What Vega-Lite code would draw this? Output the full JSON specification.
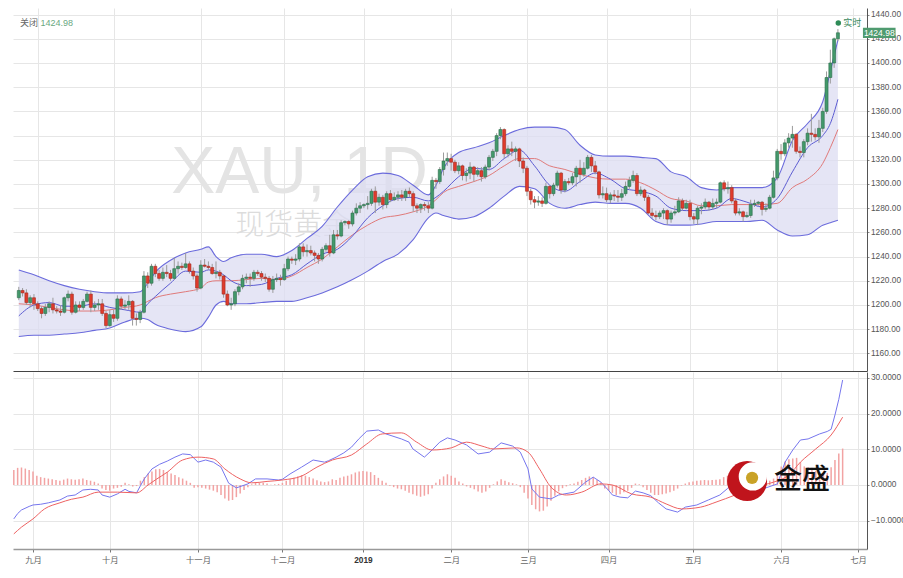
{
"$schema":"https://vega.github.io/schema/vega-lite/v6.json",
"padding":{"left":13,"top":8,"right":0,"bottom":0},
"spacing":1,
"background":"white",
"config":{"view":{"stroke":null},"axis":{"labelFont":"Liberation Sans, Noto Sans CJK SC","labelFontSize":8.3,"labelColor":"#555","gridColor":"#e6e6e6","gridWidth":1,"tickColor":"#888","domainColor":"#555"},"axisY":{"tickSize":2,"labelPadding":1.5},"axisX":{"tickSize":3,"labelPadding":3}},
"datasets":{
"k":[
{"i":-5,"o":1206,"h":1215,"l":1204,"c":1212,"d":4.2},{"i":-4,"o":1212,"h":1214,"l":1207,"c":1210,"d":4.8},{"i":-3,"o":1210,"h":1213,"l":1200,"c":1202,"d":4.9},{"i":-2,"o":1202,"h":1208,"l":1198,"c":1206,"d":4.6},{"i":-1,"o":1206,"h":1209,"l":1196,"c":1201,"d":4.2},
{"i":0,"o":1201,"h":1203,"l":1195,"c":1197,"d":3.8},{"i":1,"o":1197,"h":1199,"l":1189,"c":1193,"d":2.6},{"i":2,"o":1193,"h":1201,"l":1191,"c":1198,"d":2.2},{"i":3,"o":1198,"h":1203,"l":1194,"c":1201,"d":2.0},{"i":4,"o":1201,"h":1206,"l":1193,"c":1196,"d":1.8},
{"i":5,"o":1196,"h":1199,"l":1193,"c":1195,"d":1.6},{"i":6,"o":1195,"h":1200,"l":1191,"c":1194,"d":1.4},{"i":7,"o":1194,"h":1207,"l":1193,"c":1206,"d":1.2},{"i":8,"o":1206,"h":1212,"l":1203,"c":1209,"d":1.5},{"i":9,"o":1209,"h":1211,"l":1192,"c":1194,"d":1.8},
{"i":10,"o":1194,"h":1203,"l":1193,"c":1200,"d":1.6},{"i":11,"o":1200,"h":1203,"l":1195,"c":1198,"d":1.5},{"i":12,"o":1198,"h":1205,"l":1196,"c":1203,"d":1.6},{"i":13,"o":1203,"h":1211,"l":1202,"c":1209,"d":1.8},{"i":14,"o":1209,"h":1212,"l":1194,"c":1198,"d":1.4},
{"i":15,"o":1198,"h":1203,"l":1195,"c":1200,"d":1.2},{"i":16,"o":1200,"h":1205,"l":1196,"c":1201,"d":0.9},{"i":17,"o":1201,"h":1205,"l":1191,"c":1193,"d":0.4},{"i":18,"o":1193,"h":1195,"l":1181,"c":1183,"d":-1.0},{"i":19,"o":1183,"h":1196,"l":1182,"c":1192,"d":-1.4},
{"i":20,"o":1192,"h":1196,"l":1186,"c":1189,"d":-1.6},{"i":21,"o":1189,"h":1208,"l":1187,"c":1205,"d":-1.0},{"i":22,"o":1205,"h":1207,"l":1196,"c":1199,"d":-0.8},{"i":23,"o":1199,"h":1204,"l":1196,"c":1200,"d":-0.5},{"i":24,"o":1200,"h":1208,"l":1196,"c":1203,"d":0.6},
{"i":25,"o":1203,"h":1204,"l":1183,"c":1189,"d":0.2},{"i":26,"o":1189,"h":1193,"l":1183,"c":1188,"d":-0.4},{"i":27,"o":1188,"h":1196,"l":1185,"c":1194,"d":-0.3},{"i":28,"o":1194,"h":1228,"l":1193,"c":1224,"d":1.2},{"i":29,"o":1224,"h":1227,"l":1214,"c":1218,"d":2.2},
{"i":30,"o":1218,"h":1234,"l":1216,"c":1232,"d":3.2},{"i":31,"o":1232,"h":1234,"l":1223,"c":1226,"d":3.8},{"i":32,"o":1226,"h":1229,"l":1220,"c":1222,"d":4.4},{"i":33,"o":1222,"h":1231,"l":1220,"c":1227,"d":4.5},{"i":34,"o":1227,"h":1233,"l":1223,"c":1226,"d":4.2},
{"i":35,"o":1226,"h":1229,"l":1220,"c":1222,"d":3.6},{"i":36,"o":1222,"h":1239,"l":1221,"c":1230,"d":3.2},{"i":37,"o":1230,"h":1236,"l":1226,"c":1232,"d":2.8},{"i":38,"o":1232,"h":1235,"l":1229,"c":1231,"d":2.2},{"i":39,"o":1231,"h":1243,"l":1230,"c":1234,"d":1.8},
{"i":40,"o":1234,"h":1236,"l":1226,"c":1228,"d":1.2},{"i":41,"o":1228,"h":1231,"l":1221,"c":1224,"d":0.6},{"i":42,"o":1224,"h":1226,"l":1211,"c":1214,"d":-0.8},{"i":43,"o":1214,"h":1237,"l":1213,"c":1233,"d":-0.6},{"i":44,"o":1233,"h":1238,"l":1231,"c":1232,"d":-0.8},
{"i":45,"o":1232,"h":1236,"l":1229,"c":1231,"d":-1.0},{"i":46,"o":1231,"h":1234,"l":1225,"c":1226,"d":-1.3},{"i":47,"o":1226,"h":1236,"l":1222,"c":1227,"d":-1.6},{"i":48,"o":1227,"h":1229,"l":1221,"c":1224,"d":-2.0},{"i":49,"o":1224,"h":1225,"l":1206,"c":1209,"d":-2.8},
{"i":50,"o":1209,"h":1212,"l":1199,"c":1200,"d":-3.8},{"i":51,"o":1200,"h":1206,"l":1196,"c":1201,"d":-4.4},{"i":52,"o":1201,"h":1213,"l":1199,"c":1211,"d":-4.2},{"i":53,"o":1211,"h":1218,"l":1208,"c":1215,"d":-3.4},{"i":54,"o":1215,"h":1225,"l":1213,"c":1222,"d":-2.4},
{"i":55,"o":1222,"h":1226,"l":1218,"c":1223,"d":-1.4},{"i":56,"o":1223,"h":1226,"l":1215,"c":1222,"d":-0.6},{"i":57,"o":1222,"h":1229,"l":1220,"c":1227,"d":0.2},{"i":58,"o":1227,"h":1229,"l":1224,"c":1226,"d":0.6},{"i":59,"o":1226,"h":1228,"l":1220,"c":1223,"d":0.7},
{"i":60,"o":1223,"h":1226,"l":1219,"c":1222,"d":0.6},{"i":61,"o":1222,"h":1224,"l":1211,"c":1213,"d":0.4},{"i":62,"o":1213,"h":1224,"l":1210,"c":1221,"d":0.1},{"i":63,"o":1221,"h":1226,"l":1219,"c":1222,"d":0.2},{"i":64,"o":1222,"h":1225,"l":1216,"c":1221,"d":0.3},
{"i":65,"o":1221,"h":1234,"l":1220,"c":1230,"d":0.6},{"i":66,"o":1230,"h":1240,"l":1228,"c":1238,"d":1.2},{"i":67,"o":1238,"h":1240,"l":1234,"c":1237,"d":1.6},{"i":68,"o":1237,"h":1242,"l":1233,"c":1238,"d":2.0},{"i":69,"o":1238,"h":1251,"l":1236,"c":1248,"d":2.4},
{"i":70,"o":1248,"h":1251,"l":1240,"c":1244,"d":2.8},{"i":71,"o":1244,"h":1250,"l":1240,"c":1245,"d":2.6},{"i":72,"o":1245,"h":1249,"l":1241,"c":1243,"d":2.2},{"i":73,"o":1243,"h":1245,"l":1236,"c":1241,"d":1.8},{"i":74,"o":1241,"h":1243,"l":1234,"c":1238,"d":1.3},
{"i":75,"o":1238,"h":1248,"l":1236,"c":1246,"d":1.0},{"i":76,"o":1246,"h":1251,"l":1244,"c":1249,"d":0.8},{"i":77,"o":1249,"h":1258,"l":1240,"c":1243,"d":1.0},{"i":78,"o":1243,"h":1262,"l":1242,"c":1258,"d":1.6},{"i":79,"o":1258,"h":1262,"l":1254,"c":1257,"d":1.4},
{"i":80,"o":1257,"h":1270,"l":1256,"c":1268,"d":2.0},{"i":81,"o":1268,"h":1270,"l":1266,"c":1269,"d":2.4},{"i":82,"o":1269,"h":1270,"l":1263,"c":1267,"d":2.6},{"i":83,"o":1267,"h":1278,"l":1265,"c":1276,"d":3.0},{"i":84,"o":1276,"h":1284,"l":1274,"c":1280,"d":3.5},
{"i":85,"o":1280,"h":1285,"l":1276,"c":1282,"d":3.8},{"i":86,"o":1282,"h":1284,"l":1280,"c":1283,"d":3.9},{"i":87,"o":1283,"h":1290,"l":1279,"c":1284,"d":3.8},{"i":88,"o":1284,"h":1296,"l":1282,"c":1294,"d":3.6},{"i":89,"o":1294,"h":1298,"l":1276,"c":1285,"d":2.8},
{"i":90,"o":1285,"h":1292,"l":1282,"c":1289,"d":2.0},{"i":91,"o":1289,"h":1291,"l":1279,"c":1283,"d":1.2},{"i":92,"o":1283,"h":1294,"l":1280,"c":1292,"d":0.6},{"i":93,"o":1292,"h":1295,"l":1285,"c":1287,"d":-0.2},{"i":94,"o":1287,"h":1293,"l":1286,"c":1289,"d":-0.6},
{"i":95,"o":1289,"h":1294,"l":1286,"c":1291,"d":-1.0},{"i":96,"o":1291,"h":1295,"l":1286,"c":1289,"d":-1.2},{"i":97,"o":1289,"h":1296,"l":1286,"c":1294,"d":-1.6},{"i":98,"o":1294,"h":1297,"l":1289,"c":1292,"d":-2.2},{"i":99,"o":1292,"h":1294,"l":1277,"c":1282,"d":-2.6},
{"i":100,"o":1282,"h":1284,"l":1276,"c":1280,"d":-3.0},{"i":101,"o":1280,"h":1284,"l":1276,"c":1283,"d":-3.3},{"i":102,"o":1283,"h":1285,"l":1278,"c":1282,"d":-3.0},{"i":103,"o":1282,"h":1285,"l":1276,"c":1280,"d":-2.6},{"i":104,"o":1280,"h":1306,"l":1279,"c":1303,"d":-1.0},
{"i":105,"o":1303,"h":1305,"l":1296,"c":1302,"d":0.6},{"i":106,"o":1302,"h":1314,"l":1300,"c":1312,"d":1.6},{"i":107,"o":1312,"h":1326,"l":1307,"c":1319,"d":2.4},{"i":108,"o":1319,"h":1326,"l":1315,"c":1321,"d":3.0},{"i":109,"o":1321,"h":1325,"l":1311,"c":1318,"d":2.6},
{"i":110,"o":1318,"h":1320,"l":1309,"c":1311,"d":2.0},{"i":111,"o":1311,"h":1318,"l":1308,"c":1315,"d":1.0},{"i":112,"o":1315,"h":1316,"l":1303,"c":1307,"d":0.4},{"i":113,"o":1307,"h":1313,"l":1302,"c":1309,"d":-0.4},{"i":114,"o":1309,"h":1318,"l":1304,"c":1314,"d":-0.8},
{"i":115,"o":1314,"h":1315,"l":1302,"c":1308,"d":-1.2},{"i":116,"o":1308,"h":1314,"l":1306,"c":1311,"d":-1.8},{"i":117,"o":1311,"h":1314,"l":1302,"c":1306,"d":-2.2},{"i":118,"o":1306,"h":1316,"l":1304,"c":1314,"d":-1.8},{"i":119,"o":1314,"h":1324,"l":1311,"c":1322,"d":-0.8},
{"i":120,"o":1322,"h":1329,"l":1319,"c":1327,"d":0.2},{"i":121,"o":1327,"h":1342,"l":1323,"c":1340,"d":1.0},{"i":122,"o":1340,"h":1347,"l":1337,"c":1345,"d":1.6},{"i":123,"o":1345,"h":1346,"l":1321,"c":1325,"d":1.2},{"i":124,"o":1325,"h":1332,"l":1322,"c":1329,"d":0.8},
{"i":125,"o":1329,"h":1335,"l":1323,"c":1327,"d":0.5},{"i":126,"o":1327,"h":1331,"l":1319,"c":1329,"d":0.2},{"i":127,"o":1329,"h":1330,"l":1314,"c":1319,"d":-0.6},{"i":128,"o":1319,"h":1322,"l":1309,"c":1313,"d":-2.2},{"i":129,"o":1313,"h":1315,"l":1290,"c":1294,"d":-3.8},
{"i":130,"o":1294,"h":1296,"l":1283,"c":1287,"d":-5.6},{"i":131,"o":1287,"h":1290,"l":1280,"c":1285,"d":-6.8},{"i":132,"o":1285,"h":1290,"l":1282,"c":1286,"d":-7.4},{"i":133,"o":1286,"h":1289,"l":1281,"c":1284,"d":-7.2},{"i":134,"o":1284,"h":1301,"l":1283,"c":1298,"d":-6.0},
{"i":135,"o":1298,"h":1299,"l":1288,"c":1292,"d":-4.4},{"i":136,"o":1292,"h":1301,"l":1290,"c":1299,"d":-3.0},{"i":137,"o":1299,"h":1311,"l":1297,"c":1309,"d":-1.8},{"i":138,"o":1309,"h":1310,"l":1292,"c":1295,"d":-0.9},{"i":139,"o":1295,"h":1304,"l":1293,"c":1302,"d":-0.4},
{"i":140,"o":1302,"h":1305,"l":1299,"c":1301,"d":0.2},{"i":141,"o":1301,"h":1309,"l":1299,"c":1306,"d":0.4},{"i":142,"o":1306,"h":1315,"l":1298,"c":1313,"d":0.9},{"i":143,"o":1313,"h":1320,"l":1301,"c":1308,"d":1.4},{"i":144,"o":1308,"h":1318,"l":1306,"c":1313,"d":2.0},
{"i":145,"o":1313,"h":1324,"l":1312,"c":1322,"d":2.4},{"i":146,"o":1322,"h":1324,"l":1310,"c":1315,"d":2.2},{"i":147,"o":1315,"h":1319,"l":1308,"c":1310,"d":1.4},{"i":148,"o":1310,"h":1311,"l":1288,"c":1291,"d":0.6},{"i":149,"o":1291,"h":1298,"l":1288,"c":1292,"d":-1.0},
{"i":150,"o":1292,"h":1297,"l":1285,"c":1287,"d":-1.6},{"i":151,"o":1287,"h":1293,"l":1284,"c":1291,"d":-2.2},{"i":152,"o":1291,"h":1295,"l":1286,"c":1290,"d":-2.8},{"i":153,"o":1290,"h":1295,"l":1285,"c":1289,"d":-2.6},{"i":154,"o":1289,"h":1296,"l":1286,"c":1292,"d":-2.0},
{"i":155,"o":1292,"h":1302,"l":1290,"c":1298,"d":-1.6},{"i":156,"o":1298,"h":1306,"l":1296,"c":1303,"d":-0.8},{"i":157,"o":1303,"h":1311,"l":1301,"c":1307,"d":0.4},{"i":158,"o":1307,"h":1309,"l":1290,"c":1292,"d":0.2},{"i":159,"o":1292,"h":1298,"l":1290,"c":1295,"d":-0.6},
{"i":160,"o":1295,"h":1296,"l":1286,"c":1289,"d":-1.4},{"i":161,"o":1289,"h":1291,"l":1275,"c":1276,"d":-2.2},{"i":162,"o":1276,"h":1280,"l":1272,"c":1274,"d":-2.8},{"i":163,"o":1274,"h":1278,"l":1270,"c":1273,"d":-2.8},{"i":164,"o":1273,"h":1278,"l":1271,"c":1276,"d":-2.6},
{"i":165,"o":1276,"h":1280,"l":1271,"c":1278,"d":-2.4},{"i":166,"o":1278,"h":1279,"l":1266,"c":1271,"d":-2.0},{"i":167,"o":1271,"h":1278,"l":1268,"c":1276,"d":-1.6},{"i":168,"o":1276,"h":1282,"l":1274,"c":1277,"d":-1.0},{"i":169,"o":1277,"h":1289,"l":1276,"c":1286,"d":-0.2},
{"i":170,"o":1286,"h":1288,"l":1278,"c":1280,"d":0.4},{"i":171,"o":1280,"h":1287,"l":1279,"c":1284,"d":0.8},{"i":172,"o":1284,"h":1287,"l":1270,"c":1273,"d":1.0},{"i":173,"o":1273,"h":1276,"l":1267,"c":1271,"d":1.2},{"i":174,"o":1271,"h":1282,"l":1266,"c":1280,"d":1.3},
{"i":175,"o":1280,"h":1284,"l":1275,"c":1281,"d":1.4},{"i":176,"o":1281,"h":1288,"l":1279,"c":1285,"d":1.3},{"i":177,"o":1285,"h":1286,"l":1278,"c":1281,"d":1.4},{"i":178,"o":1281,"h":1288,"l":1279,"c":1284,"d":1.5},{"i":179,"o":1284,"h":1288,"l":1280,"c":1285,"d":1.6},
{"i":180,"o":1285,"h":1302,"l":1284,"c":1301,"d":2.2},{"i":181,"o":1301,"h":1303,"l":1294,"c":1296,"d":2.6},{"i":182,"o":1296,"h":1302,"l":1292,"c":1297,"d":2.8},{"i":183,"o":1297,"h":1299,"l":1284,"c":1286,"d":2.4},{"i":184,"o":1286,"h":1288,"l":1274,"c":1276,"d":1.6},
{"i":185,"o":1276,"h":1280,"l":1274,"c":1277,"d":1.2},{"i":186,"o":1277,"h":1278,"l":1269,"c":1273,"d":0.8},{"i":187,"o":1273,"h":1277,"l":1272,"c":1274,"d":0.6},{"i":188,"o":1274,"h":1287,"l":1272,"c":1283,"d":0.8},{"i":189,"o":1283,"h":1287,"l":1281,"c":1284,"d":1.0},
{"i":190,"o":1284,"h":1286,"l":1282,"c":1285,"d":1.1},{"i":191,"o":1285,"h":1286,"l":1274,"c":1279,"d":1.0},{"i":192,"o":1279,"h":1284,"l":1277,"c":1280,"d":1.2},{"i":193,"o":1280,"h":1291,"l":1279,"c":1289,"d":1.8},{"i":194,"o":1289,"h":1311,"l":1288,"c":1305,"d":3.2},
{"i":195,"o":1305,"h":1329,"l":1303,"c":1327,"d":5.2},{"i":196,"o":1327,"h":1333,"l":1320,"c":1325,"d":6.6},{"i":197,"o":1325,"h":1337,"l":1323,"c":1334,"d":7.2},{"i":198,"o":1334,"h":1342,"l":1330,"c":1338,"d":7.4},{"i":199,"o":1338,"h":1348,"l":1330,"c":1341,"d":7.6},
{"i":200,"o":1341,"h":1342,"l":1325,"c":1327,"d":6.4},{"i":201,"o":1327,"h":1331,"l":1322,"c":1326,"d":5.2},{"i":202,"o":1326,"h":1337,"l":1322,"c":1335,"d":5.0},{"i":203,"o":1335,"h":1346,"l":1332,"c":1342,"d":4.8},{"i":204,"o":1342,"h":1358,"l":1335,"c":1341,"d":4.0},
{"i":205,"o":1341,"h":1346,"l":1336,"c":1339,"d":3.2},{"i":206,"o":1339,"h":1353,"l":1334,"c":1346,"d":3.0},{"i":207,"o":1346,"h":1363,"l":1343,"c":1360,"d":3.4},{"i":208,"o":1360,"h":1393,"l":1358,"c":1388,"d":5.0},{"i":209,"o":1388,"h":1411,"l":1383,"c":1400,"d":7.0},
{"i":210,"o":1400,"h":1421,"l":1396,"c":1420,"d":8.8},{"i":211,"o":1420,"h":1428,"l":1418,"c":1424.98,"d":10.2}
],
"bb":[
{"i":-5,"u":1229,"l":1174,"m":1201,"a":1191},{"i":-1,"u":1225,"l":1175,"m":1200,"a":1200},{"i":3,"u":1220,"l":1175,"m":1198,"a":1202},{"i":7,"u":1216,"l":1176,"m":1196,"a":1199},{"i":11,"u":1213,"l":1177,"m":1195,"a":1199},
{"i":15,"u":1211,"l":1179,"m":1195,"a":1201},{"i":19,"u":1210,"l":1181,"m":1196,"a":1198},{"i":23,"u":1210,"l":1186,"m":1198,"a":1196},{"i":27,"u":1211,"l":1189,"m":1200,"a":1194},{"i":29,"u":1218,"l":1188,"m":1203,"a":1201},
{"i":31,"u":1227,"l":1184,"m":1206,"a":1207},{"i":35,"u":1237,"l":1180,"m":1209,"a":1218},{"i":39,"u":1243,"l":1178,"m":1211,"a":1228},{"i":43,"u":1246,"l":1182,"m":1214,"a":1227},{"i":45,"u":1248,"l":1190,"m":1219,"a":1229},
{"i":47,"u":1240,"l":1200,"m":1220,"a":1228},{"i":49,"u":1236,"l":1203,"m":1220,"a":1225},{"i":51,"u":1239,"l":1201,"m":1220,"a":1220},{"i":55,"u":1242,"l":1201,"m":1221,"a":1216},{"i":59,"u":1242,"l":1202,"m":1222,"a":1217},
{"i":63,"u":1240,"l":1203,"m":1221,"a":1222},{"i":67,"u":1245,"l":1203,"m":1224,"a":1225},{"i":71,"u":1255,"l":1206,"m":1231,"a":1234},{"i":75,"u":1265,"l":1210,"m":1238,"a":1242},{"i":79,"u":1281,"l":1215,"m":1248,"a":1246},
{"i":83,"u":1295,"l":1221,"m":1258,"a":1257},{"i":87,"u":1306,"l":1228,"m":1266,"a":1272},{"i":91,"u":1309,"l":1236,"m":1272,"a":1282},{"i":95,"u":1307,"l":1242,"m":1274,"a":1288},{"i":99,"u":1299,"l":1254,"m":1277,"a":1289},
{"i":103,"u":1291,"l":1272,"m":1282,"a":1286},{"i":105,"u":1299,"l":1276,"m":1287,"a":1289},{"i":107,"u":1313,"l":1274,"m":1293,"a":1294},{"i":111,"u":1326,"l":1271,"m":1298,"a":1306},{"i":115,"u":1330,"l":1273,"m":1302,"a":1313},
{"i":119,"u":1334,"l":1280,"m":1307,"a":1312},{"i":123,"u":1340,"l":1290,"m":1315,"a":1321},{"i":127,"u":1345,"l":1298,"m":1321,"a":1328},{"i":131,"u":1347,"l":1296,"m":1321,"a":1315},{"i":135,"u":1347,"l":1284,"m":1315,"a":1299},
{"i":139,"u":1345,"l":1280,"m":1312,"a":1294},{"i":143,"u":1332,"l":1283,"m":1308,"a":1302},{"i":147,"u":1324,"l":1285,"m":1305,"a":1309},{"i":151,"u":1323,"l":1284,"m":1304,"a":1304},{"i":155,"u":1323,"l":1284,"m":1304,"a":1296},
{"i":159,"u":1322,"l":1280,"m":1301,"a":1294},{"i":163,"u":1321,"l":1269,"m":1295,"a":1290},{"i":167,"u":1310,"l":1266,"m":1288,"a":1280},{"i":171,"u":1306,"l":1266,"m":1286,"a":1278},{"i":175,"u":1297,"l":1267,"m":1282,"a":1278},
{"i":179,"u":1295,"l":1269,"m":1282,"a":1280},{"i":183,"u":1297,"l":1269,"m":1283,"a":1288},{"i":187,"u":1297,"l":1269,"m":1283,"a":1285},{"i":191,"u":1297,"l":1270,"m":1283,"a":1281},{"i":195,"u":1305,"l":1262,"m":1284,"a":1288},
{"i":199,"u":1336,"l":1257,"m":1297,"a":1310},{"i":203,"u":1350,"l":1258,"m":1304,"a":1330},{"i":207,"u":1368,"l":1266,"m":1317,"a":1340},{"i":209,"u":1393,"l":1268,"m":1330,"a":1350},{"i":211,"u":1419,"l":1270,"m":1345,"a":1370}
],
"macd":[
{"i":-5,"v":-9.5},{"i":-4,"v":-8.0},{"i":-3,"v":-7.0},{"i":-1,"v":-6.0},{"i":0,"v":-5.6},{"i":2,"v":-5.4},{"i":4,"v":-5.0},{"i":7,"v":-4.2},{"i":9,"v":-3.1},{"i":11,"v":-2.8},{"i":13,"v":-1.4},{"i":15,"v":-1.2},{"i":17,"v":-1.4},{"i":18,"v":-2.8},{"i":20,"v":-3.4},{"i":22,"v":-2.5},{"i":24,"v":-1.2},{"i":25,"v":-1.8},{"i":27,"v":-2.2},{"i":28,"v":-0.2},{"i":29,"v":1.7},{"i":31,"v":4.5},{"i":33,"v":5.8},{"i":35,"v":6.7},{"i":37,"v":7.8},{"i":39,"v":8.7},{"i":41,"v":8.5},{"i":43,"v":6.4},{"i":45,"v":7.0},{"i":47,"v":6.4},{"i":49,"v":5.0},{"i":51,"v":0.5},{"i":53,"v":-0.8},{"i":56,"v":0.3},{"i":58,"v":1.7},{"i":61,"v":1.7},{"i":64,"v":1.4},{"i":65,"v":1.6},{"i":67,"v":3.1},{"i":70,"v":5.0},{"i":73,"v":7.0},{"i":76,"v":6.4},{"i":77,"v":6.8},{"i":79,"v":7.8},{"i":81,"v":9.0},{"i":83,"v":10.6},{"i":85,"v":13.0},{"i":87,"v":15.1},{"i":90,"v":15.4},{"i":92,"v":14.3},{"i":96,"v":12.9},{"i":98,"v":12.0},{"i":99,"v":10.1},{"i":102,"v":7.8},{"i":104,"v":9.8},{"i":106,"v":12.0},{"i":108,"v":13.2},{"i":110,"v":12.6},{"i":113,"v":11.2},{"i":116,"v":8.7},{"i":119,"v":9.2},{"i":122,"v":11.8},{"i":125,"v":10.9},{"i":127,"v":9.2},{"i":129,"v":4.5},{"i":130,"v":-1.1},{"i":132,"v":-3.4},{"i":135,"v":-3.9},{"i":137,"v":-2.8},{"i":141,"v":-2.0},{"i":144,"v":0.8},{"i":146,"v":2.2},{"i":148,"v":0.8},{"i":150,"v":-1.5},{"i":151,"v":-2.8},{"i":153,"v":-3.4},{"i":155,"v":-3.6},{"i":157,"v":-1.7},{"i":159,"v":-2.2},{"i":161,"v":-3.0},{"i":163,"v":-5.0},{"i":165,"v":-6.7},{"i":168,"v":-7.6},{"i":170,"v":-6.2},{"i":173,"v":-5.6},{"i":176,"v":-4.2},{"i":179,"v":-2.8},{"i":181,"v":-1.0},{"i":182,"v":0.3},{"i":184,"v":1.2},{"i":186,"v":0.2},{"i":188,"v":-0.6},{"i":191,"v":-0.8},{"i":194,"v":0.3},{"i":196,"v":6.4},{"i":198,"v":9.8},{"i":200,"v":12.6},{"i":202,"v":12.9},{"i":205,"v":14.3},{"i":207,"v":15.0},{"i":208,"v":15.6},{"i":209,"v":19.6},{"i":210,"v":24.0},{"i":211,"v":29.4}
],
"sig":[
{"i":-5,"v":-13.7},{"i":-3,"v":-11.8},{"i":0,"v":-9.5},{"i":3,"v":-6.7},{"i":7,"v":-5.0},{"i":10,"v":-4.0},{"i":13,"v":-3.4},{"i":17,"v":-2.0},{"i":22,"v":-2.0},{"i":27,"v":-2.2},{"i":30,"v":0.0},{"i":32,"v":1.5},{"i":35,"v":3.6},{"i":39,"v":7.0},{"i":43,"v":7.8},{"i":47,"v":7.3},{"i":50,"v":4.5},{"i":54,"v":1.7},{"i":57,"v":0.6},{"i":61,"v":1.0},{"i":65,"v":1.4},{"i":70,"v":2.5},{"i":74,"v":5.0},{"i":78,"v":7.0},{"i":83,"v":8.4},{"i":87,"v":11.5},{"i":91,"v":14.3},{"i":96,"v":14.6},{"i":100,"v":12.0},{"i":104,"v":9.8},{"i":109,"v":10.4},{"i":113,"v":12.0},{"i":117,"v":10.9},{"i":120,"v":10.1},{"i":126,"v":10.4},{"i":129,"v":9.2},{"i":132,"v":4.5},{"i":135,"v":-0.6},{"i":139,"v":-2.8},{"i":143,"v":-2.0},{"i":148,"v":0.3},{"i":151,"v":0.0},{"i":156,"v":-2.5},{"i":161,"v":-3.4},{"i":165,"v":-5.3},{"i":169,"v":-6.7},{"i":174,"v":-6.2},{"i":178,"v":-4.8},{"i":183,"v":-2.8},{"i":188,"v":-0.6},{"i":193,"v":0.8},{"i":197,"v":2.8},{"i":200,"v":6.4},{"i":204,"v":10.1},{"i":208,"v":14.0},{"i":211,"v":19.0}
]
},
"vconcat":[
{
"width":854,"height":363,
"layer":[
{"data":{"values":[{"t":"XAU, 1D","i":35.2,"p":1292.6}]},
 "mark":{"type":"text","align":"left","baseline":"alphabetic","font":"Liberation Sans","fontWeight":"normal","fontSize":66,"color":"#e4e4e4"},
 "encoding":{
  "x":{"field":"i","type":"quantitative","scale":{"domain":[-5.21,217.35],"nice":false,"zero":false},"axis":{"values":[0,20,43,65,86,109,129,150,172,195,215],"grid":true,"labels":false,"ticks":false,"domain":true,"domainColor":"#444","title":null}},
  "y":{"field":"p","type":"quantitative","scale":{"domain":[1145.45,1445.45],"nice":false,"zero":false},"axis":{"orient":"right","values":[1160,1180,1200,1220,1240,1260,1280,1300,1320,1340,1360,1380,1400,1420,1440],"format":".2f","title":null,"grid":true}},
  "text":{"field":"t"}}},
{"data":{"values":[{"t":"现货黄金","i":52.1,"p":1265.3}]},
 "mark":{"type":"text","align":"left","baseline":"middle","font":"Noto Sans CJK SC","fontWeight":300,"fontSize":29,"color":"#dcdcdc"},
 "encoding":{
  "x":{"field":"i","type":"quantitative","scale":{"domain":[-5.21,217.35],"nice":false,"zero":false},"axis":{"values":[0,20,43,65,86,109,129,150,172,195,215],"grid":true,"labels":false,"ticks":false,"domain":true,"domainColor":"#444","title":null}},
  "y":{"field":"p","type":"quantitative","scale":{"domain":[1145.45,1445.45],"nice":false,"zero":false},"axis":{"orient":"right","values":[1160,1180,1200,1220,1240,1260,1280,1300,1320,1340,1360,1380,1400,1420,1440],"format":".2f","title":null,"grid":true}},
  "text":{"field":"t"}}},
{"data":{"name":"bb"},"mark":{"type":"area","fill":"#dcdcf2","opacity":0.75,"interpolate":"monotone","clip":true},
 "encoding":{
  "x":{"field":"i","type":"quantitative","scale":{"domain":[-5.21,217.35],"nice":false,"zero":false},"axis":{"values":[0,20,43,65,86,109,129,150,172,195,215],"grid":true,"labels":false,"ticks":false,"domain":true,"domainColor":"#444","title":null}},
  "y":{"field":"u","type":"quantitative","scale":{"domain":[1145.45,1445.45],"nice":false,"zero":false},"axis":{"orient":"right","values":[1160,1180,1200,1220,1240,1260,1280,1300,1320,1340,1360,1380,1400,1420,1440],"format":".2f","title":null,"grid":true}},
  "y2":{"field":"l"}}},
{"data":{"name":"bb"},"mark":{"type":"line","color":"#6b6bdc","strokeWidth":1.1,"interpolate":"monotone","clip":true},
 "encoding":{
  "x":{"field":"i","type":"quantitative","scale":{"domain":[-5.21,217.35],"nice":false,"zero":false},"axis":{"values":[0,20,43,65,86,109,129,150,172,195,215],"grid":true,"labels":false,"ticks":false,"domain":true,"domainColor":"#444","title":null}},
  "y":{"field":"u","type":"quantitative","scale":{"domain":[1145.45,1445.45],"nice":false,"zero":false},"axis":{"orient":"right","values":[1160,1180,1200,1220,1240,1260,1280,1300,1320,1340,1360,1380,1400,1420,1440],"format":".2f","title":null,"grid":true}}}},
{"data":{"name":"bb"},"mark":{"type":"line","color":"#6b6bdc","strokeWidth":1.1,"interpolate":"monotone","clip":true},
 "encoding":{
  "x":{"field":"i","type":"quantitative","scale":{"domain":[-5.21,217.35],"nice":false,"zero":false},"axis":{"values":[0,20,43,65,86,109,129,150,172,195,215],"grid":true,"labels":false,"ticks":false,"domain":true,"domainColor":"#444","title":null}},
  "y":{"field":"l","type":"quantitative","scale":{"domain":[1145.45,1445.45],"nice":false,"zero":false},"axis":{"orient":"right","values":[1160,1180,1200,1220,1240,1260,1280,1300,1320,1340,1360,1380,1400,1420,1440],"format":".2f","title":null,"grid":true}}}},
{"data":{"name":"bb"},"mark":{"type":"line","color":"#e07a7a","strokeWidth":1,"interpolate":"monotone","clip":true},
 "encoding":{
  "x":{"field":"i","type":"quantitative","scale":{"domain":[-5.21,217.35],"nice":false,"zero":false},"axis":{"values":[0,20,43,65,86,109,129,150,172,195,215],"grid":true,"labels":false,"ticks":false,"domain":true,"domainColor":"#444","title":null}},
  "y":{"field":"m","type":"quantitative","scale":{"domain":[1145.45,1445.45],"nice":false,"zero":false},"axis":{"orient":"right","values":[1160,1180,1200,1220,1240,1260,1280,1300,1320,1340,1360,1380,1400,1420,1440],"format":".2f","title":null,"grid":true}}}},
{"data":{"name":"bb"},"mark":{"type":"line","color":"#5c5cd2","strokeWidth":1,"interpolate":"monotone","clip":true},
 "encoding":{
  "x":{"field":"i","type":"quantitative","scale":{"domain":[-5.21,217.35],"nice":false,"zero":false},"axis":{"values":[0,20,43,65,86,109,129,150,172,195,215],"grid":true,"labels":false,"ticks":false,"domain":true,"domainColor":"#444","title":null}},
  "y":{"field":"a","type":"quantitative","scale":{"domain":[1145.45,1445.45],"nice":false,"zero":false},"axis":{"orient":"right","values":[1160,1180,1200,1220,1240,1260,1280,1300,1320,1340,1360,1380,1400,1420,1440],"format":".2f","title":null,"grid":true}}}},
{"data":{"name":"k"},"mark":{"type":"rule","color":"#9a9a9a","strokeWidth":1,"clip":true},
 "encoding":{
  "x":{"field":"i","type":"quantitative","scale":{"domain":[-5.21,217.35],"nice":false,"zero":false},"axis":{"values":[0,20,43,65,86,109,129,150,172,195,215],"grid":true,"labels":false,"ticks":false,"domain":true,"domainColor":"#444","title":null}},
  "y":{"field":"l","type":"quantitative","scale":{"domain":[1145.45,1445.45],"nice":false,"zero":false},"axis":{"orient":"right","values":[1160,1180,1200,1220,1240,1260,1280,1300,1320,1340,1360,1380,1400,1420,1440],"format":".2f","title":null,"grid":true}},
  "y2":{"field":"h"}}},
{"data":{"name":"k"},"mark":{"type":"bar","size":3,"strokeWidth":0.6,"clip":true},
 "encoding":{
  "x":{"field":"i","type":"quantitative","scale":{"domain":[-5.21,217.35],"nice":false,"zero":false},"axis":{"values":[0,20,43,65,86,109,129,150,172,195,215],"grid":true,"labels":false,"ticks":false,"domain":true,"domainColor":"#444","title":null}},
  "y":{"field":"o","type":"quantitative","scale":{"domain":[1145.45,1445.45],"nice":false,"zero":false},"axis":{"orient":"right","values":[1160,1180,1200,1220,1240,1260,1280,1300,1320,1340,1360,1380,1400,1420,1440],"format":".2f","title":null,"grid":true}},
  "y2":{"field":"c"},
  "fill":{"condition":{"test":"datum.c >= datum.o","value":"#43996b"},"value":"#e03b2c"},
  "stroke":{"condition":{"test":"datum.c >= datum.o","value":"#2b6b49"},"value":"#a02b20"}}},
{"mark":{"type":"rule","color":"#86c2a0","strokeDash":[1,1.5],"strokeWidth":1},
 "encoding":{
  "y":{"datum":1424.98,"type":"quantitative","scale":{"domain":[1145.45,1445.45],"nice":false,"zero":false},"axis":{"orient":"right","values":[1160,1180,1200,1220,1240,1260,1280,1300,1320,1340,1360,1380,1400,1420,1440],"format":".2f","title":null,"grid":true}}}},
{"data":{"values":[{"t":"关闭","i":-4.7,"p":1433.1,"g":"a"},{"t":"1424.98","i":0.7,"p":1433.1,"g":"b"}]},
 "mark":{"type":"text","align":"left","baseline":"middle","font":"Liberation Sans, Noto Sans CJK SC","fontSize":9},
 "encoding":{
  "x":{"field":"i","type":"quantitative","scale":{"domain":[-5.21,217.35],"nice":false,"zero":false},"axis":{"values":[0,20,43,65,86,109,129,150,172,195,215],"grid":true,"labels":false,"ticks":false,"domain":true,"domainColor":"#444","title":null}},
  "y":{"field":"p","type":"quantitative","scale":{"domain":[1145.45,1445.45],"nice":false,"zero":false},"axis":{"orient":"right","values":[1160,1180,1200,1220,1240,1260,1280,1300,1320,1340,1360,1380,1400,1420,1440],"format":".2f","title":null,"grid":true}},
  "text":{"field":"t"},
  "color":{"condition":{"test":"datum.g == 'a'","value":"#666666"},"value":"#6aa882"}}},
{"data":{"values":[{"i":217.6,"i2":226.2,"p":1429.2,"p2":1420.6}]},
 "mark":{"type":"rect","fill":"#4f9b6f"},
 "encoding":{
  "x":{"field":"i","type":"quantitative","scale":{"domain":[-5.21,217.35],"nice":false,"zero":false},"axis":{"values":[0,20,43,65,86,109,129,150,172,195,215],"grid":true,"labels":false,"ticks":false,"domain":true,"domainColor":"#444","title":null}},
  "x2":{"field":"i2"},
  "y":{"field":"p","type":"quantitative","scale":{"domain":[1145.45,1445.45],"nice":false,"zero":false},"axis":{"orient":"right","values":[1160,1180,1200,1220,1240,1260,1280,1300,1320,1340,1360,1380,1400,1420,1440],"format":".2f","title":null,"grid":true}},
  "y2":{"field":"p2"}}},
{"data":{"values":[{"t":"1424.98","i":221.9,"p":1424.9}]},
 "mark":{"type":"text","align":"center","baseline":"middle","font":"Liberation Sans","fontSize":8.5,"color":"#ffffff"},
 "encoding":{
  "x":{"field":"i","type":"quantitative","scale":{"domain":[-5.21,217.35],"nice":false,"zero":false},"axis":{"values":[0,20,43,65,86,109,129,150,172,195,215],"grid":true,"labels":false,"ticks":false,"domain":true,"domainColor":"#444","title":null}},
  "y":{"field":"p","type":"quantitative","scale":{"domain":[1145.45,1445.45],"nice":false,"zero":false},"axis":{"orient":"right","values":[1160,1180,1200,1220,1240,1260,1280,1300,1320,1340,1360,1380,1400,1420,1440],"format":".2f","title":null,"grid":true}},
  "text":{"field":"t"}}},
{"data":{"values":[{"i":211.1,"p":1433.1}]},
 "mark":{"type":"point","shape":"circle","filled":true,"size":30,"color":"#2e8b57","opacity":1},
 "encoding":{
  "x":{"field":"i","type":"quantitative","scale":{"domain":[-5.21,217.35],"nice":false,"zero":false},"axis":{"values":[0,20,43,65,86,109,129,150,172,195,215],"grid":true,"labels":false,"ticks":false,"domain":true,"domainColor":"#444","title":null}},
  "y":{"field":"p","type":"quantitative","scale":{"domain":[1145.45,1445.45],"nice":false,"zero":false},"axis":{"orient":"right","values":[1160,1180,1200,1220,1240,1260,1280,1300,1320,1340,1360,1380,1400,1420,1440],"format":".2f","title":null,"grid":true}}}},
{"data":{"values":[{"t":"实时","i":212.4,"p":1433.1}]},
 "mark":{"type":"text","align":"left","baseline":"middle","font":"Noto Sans CJK SC","fontSize":9,"color":"#3b8a5e"},
 "encoding":{
  "x":{"field":"i","type":"quantitative","scale":{"domain":[-5.21,217.35],"nice":false,"zero":false},"axis":{"values":[0,20,43,65,86,109,129,150,172,195,215],"grid":true,"labels":false,"ticks":false,"domain":true,"domainColor":"#444","title":null}},
  "y":{"field":"p","type":"quantitative","scale":{"domain":[1145.45,1445.45],"nice":false,"zero":false},"axis":{"orient":"right","values":[1160,1180,1200,1220,1240,1260,1280,1300,1320,1340,1360,1380,1400,1420,1440],"format":".2f","title":null,"grid":true}},
  "text":{"field":"t"}}}
]
},
{
"width":854,"height":177,
"layer":[
{"data":{"name":"k"},"mark":{"type":"rule","strokeWidth":1.5,"color":"#f2a3a3","clip":true},
 "encoding":{
  "x":{"field":"i","type":"quantitative","scale":{"domain":[-5.21,217.35],"nice":false,"zero":false},"axis":{"values":[0,20,43,65,86,109,129,150,172,195,215],"grid":true,"ticks":true,"tickColor":"#777","domainColor":"#999","domainWidth":1.5,"title":null,"labelExpr":"['九月','十月','十一月','十二月','2019','二月','三月','四月','五月','六月','七月'][indexof([0,20,43,65,86,109,129,150,172,195,215], datum.value)]","labelFontWeight":{"condition":{"test":"datum.value == 86","value":"bold"},"value":"normal"},"labelColor":{"condition":{"test":"datum.value == 86","value":"#333333"},"value":"#666666"}}},
  "y":{"field":"d","type":"quantitative","scale":{"domain":[-17.93,31.65],"nice":false,"zero":false},"axis":{"orient":"right","values":[-10,0,10,20,30],"format":".4f","title":null,"grid":true}},
  "y2":{"datum":0}}},
{"data":{"name":"macd"},"mark":{"type":"line","color":"#7676ee","strokeWidth":1,"clip":true},
 "encoding":{
  "x":{"field":"i","type":"quantitative","scale":{"domain":[-5.21,217.35],"nice":false,"zero":false},"axis":{"values":[0,20,43,65,86,109,129,150,172,195,215],"grid":true,"ticks":true,"tickColor":"#777","domainColor":"#999","domainWidth":1.5,"title":null,"labelExpr":"['九月','十月','十一月','十二月','2019','二月','三月','四月','五月','六月','七月'][indexof([0,20,43,65,86,109,129,150,172,195,215], datum.value)]","labelFontWeight":{"condition":{"test":"datum.value == 86","value":"bold"},"value":"normal"},"labelColor":{"condition":{"test":"datum.value == 86","value":"#333333"},"value":"#666666"}}},
  "y":{"field":"v","type":"quantitative","scale":{"domain":[-17.93,31.65],"nice":false,"zero":false},"axis":{"orient":"right","values":[-10,0,10,20,30],"format":".4f","title":null,"grid":true}}}},
{"data":{"name":"sig"},"mark":{"type":"line","color":"#ee6262","strokeWidth":1,"interpolate":"monotone","clip":true},
 "encoding":{
  "x":{"field":"i","type":"quantitative","scale":{"domain":[-5.21,217.35],"nice":false,"zero":false},"axis":{"values":[0,20,43,65,86,109,129,150,172,195,215],"grid":true,"ticks":true,"tickColor":"#777","domainColor":"#999","domainWidth":1.5,"title":null,"labelExpr":"['九月','十月','十一月','十二月','2019','二月','三月','四月','五月','六月','七月'][indexof([0,20,43,65,86,109,129,150,172,195,215], datum.value)]","labelFontWeight":{"condition":{"test":"datum.value == 86","value":"bold"},"value":"normal"},"labelColor":{"condition":{"test":"datum.value == 86","value":"#333333"},"value":"#666666"}}},
  "y":{"field":"v","type":"quantitative","scale":{"domain":[-17.93,31.65],"nice":false,"zero":false},"axis":{"orient":"right","values":[-10,0,10,20,30],"format":".4f","title":null,"grid":true}}}},
{"data":{"values":[{"i":186.1,"v":1.1}]},
 "mark":{"type":"point","shape":"circle","filled":true,"size":1600,"color":"#c0141c","opacity":1},
 "encoding":{
  "x":{"field":"i","type":"quantitative","scale":{"domain":[-5.21,217.35],"nice":false,"zero":false},"axis":{"values":[0,20,43,65,86,109,129,150,172,195,215],"grid":true,"ticks":true,"tickColor":"#777","domainColor":"#999","domainWidth":1.5,"title":null,"labelExpr":"['九月','十月','十一月','十二月','2019','二月','三月','四月','五月','六月','七月'][indexof([0,20,43,65,86,109,129,150,172,195,215], datum.value)]","labelFontWeight":{"condition":{"test":"datum.value == 86","value":"bold"},"value":"normal"},"labelColor":{"condition":{"test":"datum.value == 86","value":"#333333"},"value":"#666666"}}},
  "y":{"field":"v","type":"quantitative","scale":{"domain":[-17.93,31.65],"nice":false,"zero":false},"axis":{"orient":"right","values":[-10,0,10,20,30],"format":".4f","title":null,"grid":true}}}},
{"data":{"values":[{"i":187.6,"v":2.4}]},
 "mark":{"type":"point","shape":"circle","filled":true,"size":800,"color":"#ffffff","opacity":1},
 "encoding":{
  "x":{"field":"i","type":"quantitative","scale":{"domain":[-5.21,217.35],"nice":false,"zero":false},"axis":{"values":[0,20,43,65,86,109,129,150,172,195,215],"grid":true,"ticks":true,"tickColor":"#777","domainColor":"#999","domainWidth":1.5,"title":null,"labelExpr":"['九月','十月','十一月','十二月','2019','二月','三月','四月','五月','六月','七月'][indexof([0,20,43,65,86,109,129,150,172,195,215], datum.value)]","labelFontWeight":{"condition":{"test":"datum.value == 86","value":"bold"},"value":"normal"},"labelColor":{"condition":{"test":"datum.value == 86","value":"#333333"},"value":"#666666"}}},
  "y":{"field":"v","type":"quantitative","scale":{"domain":[-17.93,31.65],"nice":false,"zero":false},"axis":{"orient":"right","values":[-10,0,10,20,30],"format":".4f","title":null,"grid":true}}}},
{"data":{"values":[{"i":187.4,"v":2.0}]},
 "mark":{"type":"point","shape":"circle","filled":true,"size":150,"color":"#c9a227","opacity":1},
 "encoding":{
  "x":{"field":"i","type":"quantitative","scale":{"domain":[-5.21,217.35],"nice":false,"zero":false},"axis":{"values":[0,20,43,65,86,109,129,150,172,195,215],"grid":true,"ticks":true,"tickColor":"#777","domainColor":"#999","domainWidth":1.5,"title":null,"labelExpr":"['九月','十月','十一月','十二月','2019','二月','三月','四月','五月','六月','七月'][indexof([0,20,43,65,86,109,129,150,172,195,215], datum.value)]","labelFontWeight":{"condition":{"test":"datum.value == 86","value":"bold"},"value":"normal"},"labelColor":{"condition":{"test":"datum.value == 86","value":"#333333"},"value":"#666666"}}},
  "y":{"field":"v","type":"quantitative","scale":{"domain":[-17.93,31.65],"nice":false,"zero":false},"axis":{"orient":"right","values":[-10,0,10,20,30],"format":".4f","title":null,"grid":true}}}},
{"data":{"values":[{"t":"金盛","i":193.1,"v":1.1}]},
 "mark":{"type":"text","align":"left","baseline":"middle","font":"Noto Sans CJK SC","fontWeight":500,"fontSize":28,"color":"#111111"},
 "encoding":{
  "x":{"field":"i","type":"quantitative","scale":{"domain":[-5.21,217.35],"nice":false,"zero":false},"axis":{"values":[0,20,43,65,86,109,129,150,172,195,215],"grid":true,"ticks":true,"tickColor":"#777","domainColor":"#999","domainWidth":1.5,"title":null,"labelExpr":"['九月','十月','十一月','十二月','2019','二月','三月','四月','五月','六月','七月'][indexof([0,20,43,65,86,109,129,150,172,195,215], datum.value)]","labelFontWeight":{"condition":{"test":"datum.value == 86","value":"bold"},"value":"normal"},"labelColor":{"condition":{"test":"datum.value == 86","value":"#333333"},"value":"#666666"}}},
  "y":{"field":"v","type":"quantitative","scale":{"domain":[-17.93,31.65],"nice":false,"zero":false},"axis":{"orient":"right","values":[-10,0,10,20,30],"format":".4f","title":null,"grid":true}},
  "text":{"field":"t"}}}
]
}
]
}
